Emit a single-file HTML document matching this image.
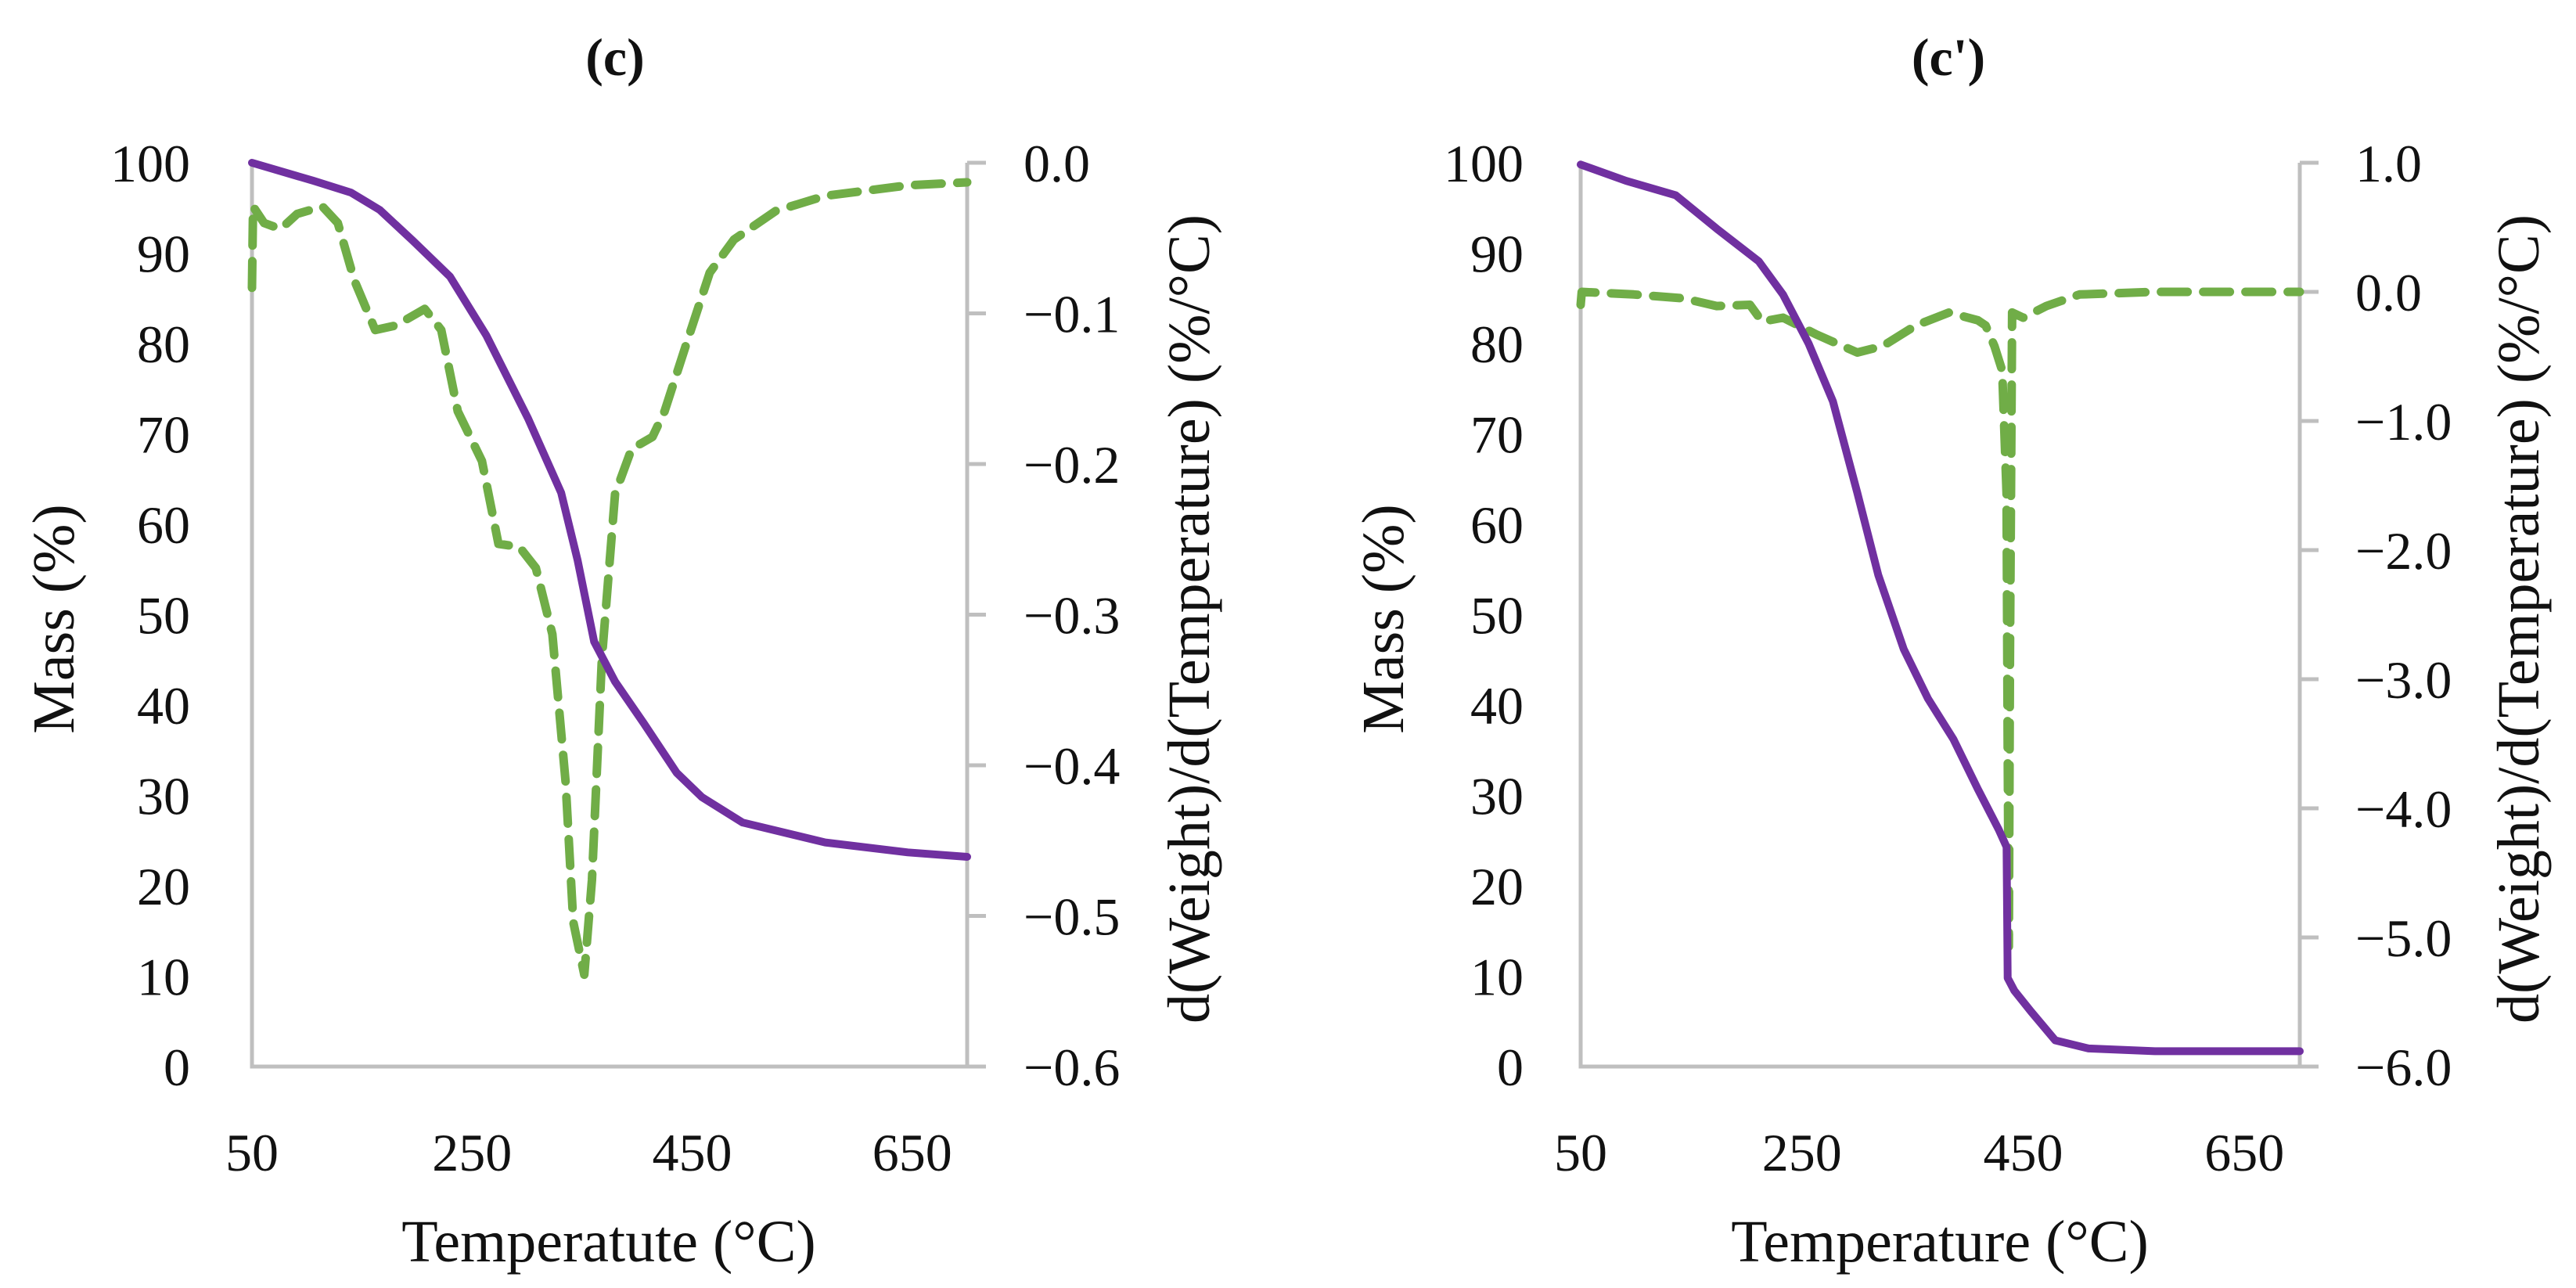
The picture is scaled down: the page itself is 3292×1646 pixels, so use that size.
<!DOCTYPE html>
<html><head><meta charset="utf-8"><style>
html,body{margin:0;padding:0;background:#fff}
svg{display:block}
text{font-family:"Liberation Serif",serif;fill:#111}
</style></head><body>
<svg id="chart" width="3292" height="1646" viewBox="0 0 3292 1646" xmlns="http://www.w3.org/2000/svg"></svg>
<script>
// Panel (c) data
const cMassTemp = [50,106,140,166,196,230,263,301,331,346,361,380,406,436,459,496,571,646,700];
const cMassVal  = [100,98,96.7,94.8,91.4,87.4,80.9,71.7,63.5,56,47,42.6,38,32.5,29.8,27,24.8,23.7,23.2];
const cDerTemp = [50,51,61,76,91,114,128,143,162,181,207,222,237,259,274,293,308,323,335,342,352,359,368,380,395,414,425,444,466,488,526,571,646,700];
const cDerVal  = [-0.083,-0.029,-0.04,-0.044,-0.034,-0.029,-0.04,-0.078,-0.111,-0.108,-0.097,-0.111,-0.165,-0.198,-0.253,-0.255,-0.269,-0.313,-0.411,-0.504,-0.539,-0.476,-0.329,-0.22,-0.19,-0.182,-0.165,-0.122,-0.073,-0.051,-0.032,-0.022,-0.015,-0.013];
const cRightTicks = ["0.0","\u22120.1","\u22120.2","\u22120.3","\u22120.4","\u22120.5","\u22120.6"];
const cRightVals = [0,-0.1,-0.2,-0.3,-0.4,-0.5,-0.6];
// Panel (c') data
const dMassTemp = [50,91,136,173,211,233,256,278,300,319,342,364,387,409,428,435,436,442,457,479,509,569,700];
const dMassVal  = [99.8,98,96.4,92.7,89.1,85.4,80,73.6,63.5,54.4,46.2,40.7,36.2,30.7,26.2,24.3,9.8,8.4,6.1,2.9,2,1.7,1.7];
const dDerTemp = [50,51,98,143,173,203,214,233,263,300,323,353,383,409,416,424,431,435,436,437,438,440,450,471,501,569,700];
const dDerVal  = [-0.1,0,-0.02,-0.05,-0.11,-0.1,-0.23,-0.2,-0.33,-0.47,-0.42,-0.26,-0.16,-0.22,-0.26,-0.42,-0.61,-1.56,-3.47,-5.07,-2.84,-0.16,-0.2,-0.11,-0.02,0,0];
const dRightTicks = ["1.0","0.0","\u22121.0","\u22122.0","\u22123.0","\u22124.0","\u22125.0","\u22126.0"];
const dRightVals = [1,0,-1,-2,-3,-4,-5,-6];
// shared
const massTicks = [0,10,20,30,40,50,60,70,80,90,100];
const xTicks = [50,250,450,650];

const NS="http://www.w3.org/2000/svg";
const svg=document.getElementById('chart');
function el(tag,attrs,parent){const e=document.createElementNS(NS,tag);for(const k in attrs)e.setAttribute(k,attrs[k]);(parent||svg).appendChild(e);return e;}

function panel(o){
  const g=el('g',{});
  
  
  const L=o.left,R=o.right,T=208,B=1363;
  const xs=t=>L+(t-50)/(700-50)*(R-L);
  const ym=v=>B-v/100*(B-T);
  const yd=v=>T+(o.dMax-v)/(o.dMax-o.dMin)*(B-T);
  const ax=el('path',{d:`M${L},${T} V${B} H${R} M${R},${T} V${B}`,stroke:'#bfbfbf','stroke-width':5,fill:'none'},g);
  
  
  o.rVals.forEach((v,i)=>{
    const tk=el('line',{x1:R,x2:R+24,y1:yd(v),y2:yd(v),stroke:'#bfbfbf','stroke-width':5},g);
    
    
    const t=el('text',{x:o.rLabelX,y:yd(v)+24,'font-size':68},g);
    t.textContent=o.rTicks[i];
    
    
  });
  massTicks.forEach(v=>{
    const t=el('text',{x:o.lLabelX,y:ym(v)+24,'font-size':68,'text-anchor':'end'},g);
    t.textContent=v;
    
    
  });
  xTicks.forEach(v=>{
    const t=el('text',{x:xs(v),y:1496,'font-size':68,'text-anchor':'middle'},g);
    t.textContent=v;
    
    
  });
  const dp=o.dT.map((t,i)=>(i?'L':'M')+xs(t).toFixed(1)+','+yd(o.dV[i]).toFixed(1)).join(' ');
  const dl=el('path',{d:dp,stroke:'#70ad47','stroke-width':11,fill:'none','stroke-dasharray':'34 20','stroke-linejoin':'round','stroke-linecap':'round'},g);
  
  
  const mp=o.mT.map((t,i)=>(i?'L':'M')+xs(t).toFixed(1)+','+ym(o.mV[i]).toFixed(1)).join(' ');
  const ml=el('path',{d:mp,stroke:'#7030a0','stroke-width':10,fill:'none','stroke-linejoin':'round','stroke-linecap':'round'},g);
  
  
  const tt=el('text',{x:o.titleX,y:96,'font-size':68,'font-weight':'bold','text-anchor':'middle'},g);
  tt.textContent=o.title;
  
  
  const xt=el('text',{x:o.xTitleX,y:1612,'font-size':76,'text-anchor':'middle'},g);
  xt.textContent=o.xTitle;
  
  
  const yt=el('text',{x:0,y:0,'font-size':76,'text-anchor':'middle',transform:`translate(${o.yTitleX},791) rotate(-90)`},g);
  yt.textContent='Mass (%)';
  
  
  const rt=el('text',{x:0,y:0,'font-size':76,'text-anchor':'middle',transform:`translate(${o.rTitleX},791) rotate(-90)`},g);
  rt.textContent='d(Weight)/d(Temperature)  (%/°C)';
  
  
}
panel({name:'panel-c',left:322,right:1236,dMax:0,dMin:-0.6,rTicks:cRightTicks,rVals:cRightVals,rLabelX:1308,lLabelX:243,
  mT:cMassTemp,mV:cMassVal,dT:cDerTemp,dV:cDerVal,title:'(c)',titleX:786,xTitle:'Temperatute (°C)',xTitleX:778,yTitleX:94,rTitleX:1545});
panel({name:'panel-c-prime',left:2020,right:2939,dMax:1,dMin:-6,rTicks:dRightTicks,rVals:dRightVals,rLabelX:3010,lLabelX:1947,
  mT:dMassTemp,mV:dMassVal,dT:dDerTemp,dV:dDerVal,title:"(c')",titleX:2490,xTitle:'Temperature (°C)',xTitleX:2479,yTitleX:1793,rTitleX:3244});
</script>
</body></html>
